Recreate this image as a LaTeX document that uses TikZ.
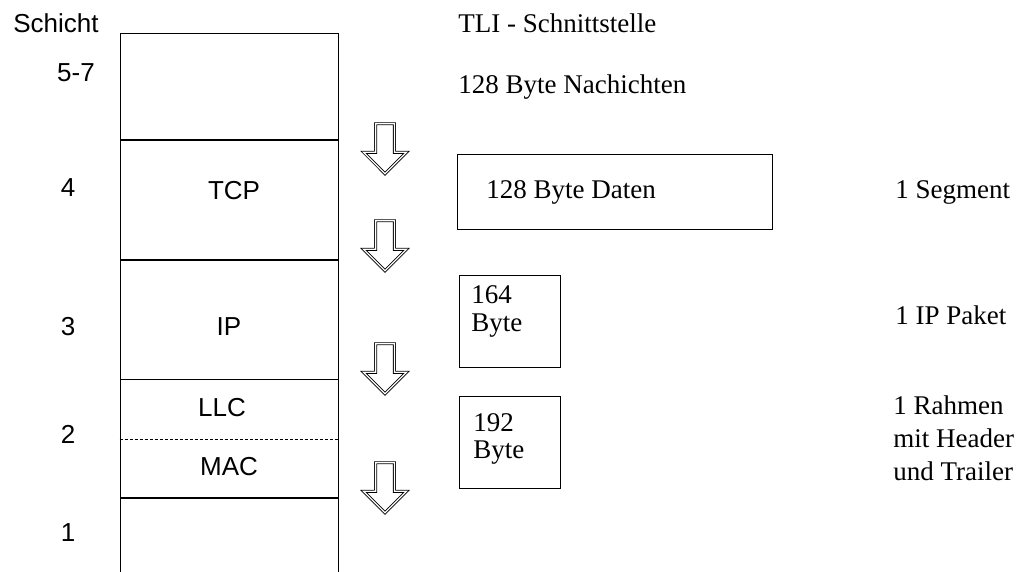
\documentclass[tikz,border=0pt]{standalone}
\usepackage{fontspec}
\setmainfont{Liberation Serif}
\setsansfont{Liberation Sans}
\usetikzlibrary{positioning,shapes.arrows}

\begin{document}
\begin{tikzpicture}[
    x=1pt, y=-1pt,
    node distance=0pt,
    line width=0.8pt,
    layer/.style={draw, minimum width=218pt, inner sep=0pt, anchor=north},
    pkt/.style={draw, inner sep=0pt, anchor=north west},
    sflbl/.style={font=\fontsize{26}{30}\selectfont\sffamily, inner sep=0pt},
    rmlbl/.style={font=\fontsize{27}{33}\selectfont, inner sep=0pt, align=left, anchor=north west},
    downarrow/.style={draw, double, double distance=1.3pt, single arrow, shape border rotate=270,
        minimum height=50pt, inner sep=9pt, single arrow head extend=12pt}
]
\clip (0,0) rectangle (1024,571);

% Schichtenstapel
\node[layer, minimum height=106pt] (l57) at (229,33) {};
\node[layer, minimum height=119pt, below=of l57] (l4) {};
\node[layer, minimum height=119pt, below=of l4] (l3) {};
\node[layer, minimum height=118pt, below=of l3] (l2) {};
\node[layer, minimum height=100pt, below=of l2] (l1) {};
\draw[line width=0.6pt, dash pattern=on 3pt off 2pt] (l2.west) -- (l2.east);

\node[sflbl] (tcp) at (234,191) {TCP};
\node[sflbl] (ip) at (229,327) {IP};
\node[sflbl] (llc) at (222,408) {LLC};
\node[sflbl] (mac) at (229,467) {MAC};

% Schichtnummern
\node[sflbl] (schicht) at (56,23) {Schicht};
\node[sflbl] (n57) at (76,73) {5-7};
\node[sflbl] (n4) at (68,188) {4};
\node[sflbl] (n3) at (68,327) {3};
\node[sflbl] (n2) at (68,434) {2};
\node[sflbl] (n1) at (68,533) {1};

% Pfeile
\node[downarrow] (a1) at (385,144) {};
\node[downarrow] (a2) at (385,241) {};
\node[downarrow] (a3) at (385,364) {};
\node[downarrow] (a4) at (385,483) {};

% Daten
\node[rmlbl] (tli) at (458,13) {TLI - Schnittstelle};
\node[rmlbl] (msg) at (458,74) {128 Byte Nachichten};

\node[pkt, minimum width=315pt, minimum height=75pt] (seg) at (457,154) {};
\node[rmlbl] (segtxt) at (486,180) {128 Byte Daten};

\node[pkt, minimum width=101pt, minimum height=92pt] (pak) at (459,275) {};
\node[rmlbl] (paktxt) at (471,285) {164\\[-5pt]Byte};

\node[pkt, minimum width=101pt, minimum height=92pt] (rah) at (459,396) {};
\node[rmlbl] (rahtxt) at (473,413) {192\\[-6pt]Byte};

\node[rmlbl] (segr) at (895,180) {1 Segment};
\node[rmlbl] (pakr) at (895,305) {1 IP Paket};
\node[rmlbl] (rahr) at (893,395) {1 Rahmen\\mit Header\\und Trailer};

\end{tikzpicture}
\end{document}
